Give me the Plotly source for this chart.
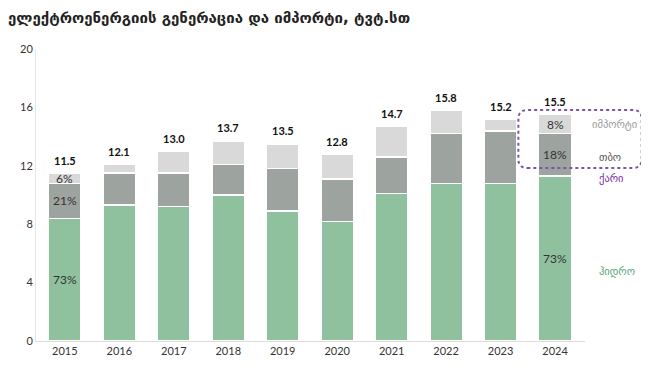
import plotly.graph_objects as go

years = ["2015", "2016", "2017", "2018", "2019", "2020", "2021", "2022", "2023", "2024"]
hydro = [8.4, 9.3, 9.2, 10.0, 8.9, 8.2, 10.1, 10.8, 10.8, 11.3]
thermal = [2.4, 2.2, 2.3, 2.1, 2.9, 2.9, 2.5, 3.4, 3.6, 2.9]
imports = [0.7, 0.6, 1.5, 1.6, 1.7, 1.7, 2.1, 1.6, 0.8, 1.3]
totals = [11.5, 12.1, 13.0, 13.7, 13.5, 12.8, 14.7, 15.8, 15.2, 15.5]
pct_hydro = ["73%", "", "", "", "", "", "", "", "", "73%"]
pct_thermal = ["21%", "", "", "", "", "", "", "", "", "18%"]
pct_import = ["6%", "", "", "", "", "", "", "", "", "8%"]

title = "ელექტროენერგიის გენერაცია და იმპორტი, ტვტ.სთ"
legend_names = ["იმპორტი", "თბო", "ქარი", "ჰიდრო"]

GEO = "DejaVu Sans"
NUM = "Lato, Open Sans, sans-serif"

fig = go.Figure()
for vals, col in [(hydro, "#8fc19f"), (thermal, "#9da39f"), (imports, "#d9d9d9")]:
    fig.add_trace(go.Bar(x=years, y=vals, marker=dict(color=col, line=dict(color="white", width=1.5)),
                         width=0.6, hoverinfo="skip"))

ann = []
for i in range(len(years)):
    ann.append(dict(x=i, y=totals[i], text="<b>%.1f</b>" % totals[i], showarrow=False, yshift=13,
                    font=dict(size=11, color="#111", family=NUM), xref="x", yref="y"))
    h, t, m = hydro[i], thermal[i], imports[i]
    for lab, yc in [(pct_hydro[i], h / 2), (pct_thermal[i], h + t / 2), (pct_import[i], h + t + m / 2)]:
        if lab:
            ann.append(dict(x=i, y=yc, text=lab, showarrow=False, font=dict(size=12, color="#333", family=NUM),
                            xref="x", yref="y"))

# screen positions -> paper coords (plot area on screen: x 33..585, y 49..341)
def px(x):
    return (x - 33) / 552.0

def py(y):
    return (341 - y) / 292.0

leg_pos = [(590, 124, "#9a9a9a"), (597, 157, "#555555"), (597, 178, "#7b2a9e"), (597, 271, "#5aa57c")]
for name, (x0, y0, c) in zip(legend_names, leg_pos):
    ann.append(dict(x=px(x0), y=py(y0), xref="paper", yref="paper", text=name, showarrow=False,
                    xanchor="left", yanchor="middle", font=dict(size=10.5, color=c, family=GEO)))

# dotted rounded box
x0, x1, y0, y1 = px(518), px(642), py(168), py(110)
rx, ry = 9 / 552.0, 9 / 292.0
path = (f"M {x0+rx},{y0} L {x1-rx},{y0} Q {x1},{y0} {x1},{y0+ry} L {x1},{y1-ry} Q {x1},{y1} {x1-rx},{y1} "
        f"L {x0+rx},{y1} Q {x0},{y1} {x0},{y1-ry} L {x0},{y0+ry} Q {x0},{y0} {x0+rx},{y0} Z")

fig.update_layout(
    barmode="stack",
    width=649, height=372,
    margin=dict(l=25, r=72, t=41, b=39),
    paper_bgcolor="white", plot_bgcolor="white",
    showlegend=False,
    annotations=ann,
    title=dict(text="<b>" + title + "</b>", x=0, xanchor="left", xref="container", y=1 - 10 / 372,
               yanchor="middle", font=dict(size=15, color="#222", family=GEO)),
    shapes=[dict(type="path", path=path, xref="paper", yref="paper",
                 line=dict(color="#7d55a8", width=2, dash="dot"))],
    xaxis=dict(type="category", range=[-0.53, 9.55], showgrid=False, showline=True, linecolor="#dcdcdc",
               linewidth=1, ticks="", tickfont=dict(size=11, color="#333", family=NUM)),
    yaxis=dict(range=[0, 20], tickvals=[0, 4, 8, 12, 16, 20], showgrid=False, zeroline=False,
               showline=True, linecolor="#e6e6e6", linewidth=1, ticks="",
               tickfont=dict(size=11, color="#333", family=NUM)),
)

fig.write_html("out.html")
